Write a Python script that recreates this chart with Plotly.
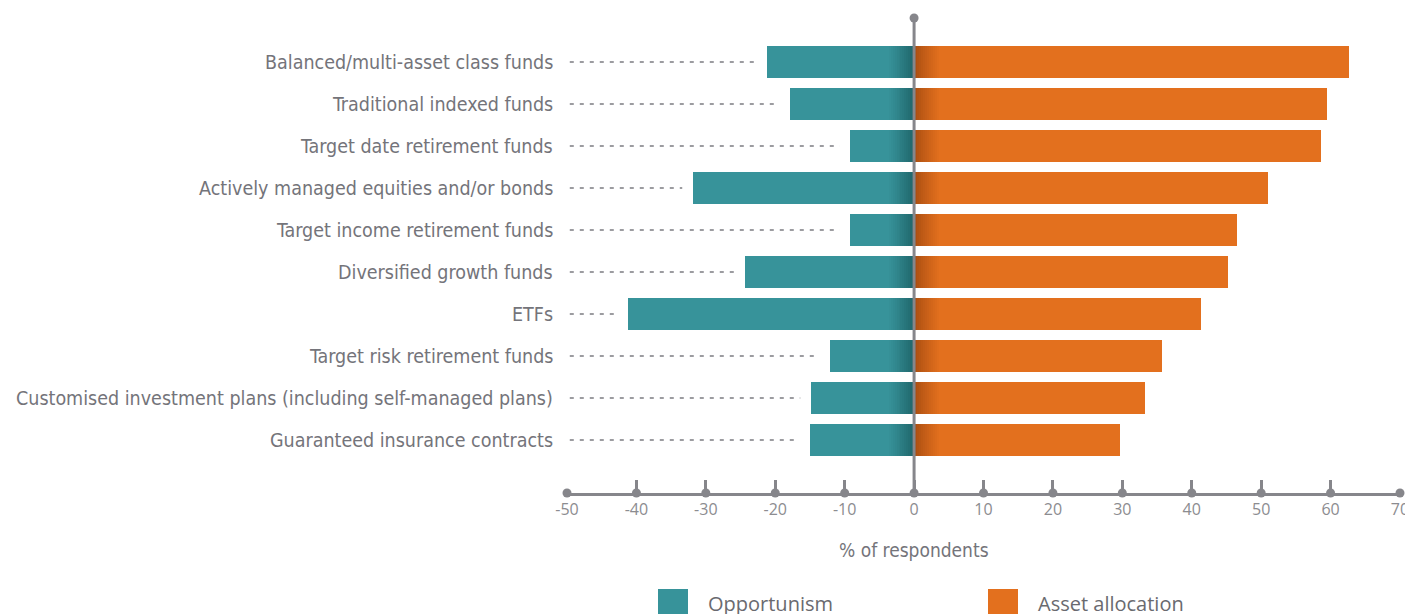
import plotly.graph_objects as go

categories = [
    "Balanced/multi-asset class funds",
    "Traditional indexed funds",
    "Target date retirement funds",
    "Actively managed equities and/or bonds",
    "Target income retirement funds",
    "Diversified growth funds",
    "ETFs",
    "Target risk retirement funds",
    "Customised investment plans (including self-managed plans)",
    "Guaranteed insurance contracts",
]
opportunism = [-21.2, -17.9, -9.2, -31.9, -9.2, -24.4, -41.2, -12.1, -14.9, -15.0]
asset_allocation = [62.7, 59.5, 58.6, 51.0, 46.5, 45.2, 41.4, 35.7, 33.3, 29.7]
tick_vals = [-50, -40, -30, -20, -10, 0, 10, 20, 30, 40, 50, 60, 70]
tick_text = ["-50", "-40", "-30", "-20", "-10", "0", "10", "20", "30", "40", "50", "60", "70"]

TEAL = "#37939A"
TEAL_DARK = "#1F6469"
ORANGE = "#E3701E"
ORANGE_DARK = "#A44A10"
GREY = "#86868B"
TEXT = "#74747A"
COND = "DejaVu Sans Condensed, sans-serif"

OFF = 8  # page body margin
W, H = 1413 - OFF, 614 - OFF
L = 567 - OFF
T = 18 - OFF
PLOT_BOTTOM = 493 - OFF
PLOT_RIGHT = 1400 - OFF
R = W - PLOT_RIGHT
B = H - PLOT_BOTTOM
PW, PH = W - L - R, H - T - B

def px(xp):
    return (xp - OFF - L) / PW

def py(yp):
    return (PLOT_BOTTOM - (yp - OFF)) / PH

ys = list(range(len(categories)))
BW = 0.76

def mix(c1, c2, t):
    a = [int(c1[i:i + 2], 16) for i in (1, 3, 5)]
    b = [int(c2[i:i + 2], 16) for i in (1, 3, 5)]
    return "#%02x%02x%02x" % tuple(round(a[k] + (b[k] - a[k]) * t) for k in range(3))

fig = go.Figure()

fig.add_trace(go.Bar(y=ys, x=opportunism, orientation="h", width=BW,
                     marker=dict(color=TEAL, line=dict(width=0)),
                     name="Opportunism", hoverinfo="skip"))
fig.add_trace(go.Bar(y=ys, x=asset_allocation, orientation="h", width=BW,
                     marker=dict(color=ORANGE, line=dict(width=0)),
                     name="Asset allocation", hoverinfo="skip"))

# gradient shading next to the zero line
NSEG, SEG = 14, 0.28
for j in range(NSEG):
    t = (j / (NSEG - 1)) ** 0.8
    fig.add_trace(go.Bar(y=ys, x=[SEG] * len(ys), base=[-(j + 1) * SEG] * len(ys),
                         orientation="h", width=BW,
                         marker=dict(color=mix(TEAL_DARK, TEAL, t), line=dict(width=0)),
                         showlegend=False, hoverinfo="skip"))
    fig.add_trace(go.Bar(y=ys, x=[SEG] * len(ys), base=[j * SEG] * len(ys),
                         orientation="h", width=BW,
                         marker=dict(color=mix(ORANGE_DARK, ORANGE, t), line=dict(width=0)),
                         showlegend=False, hoverinfo="skip"))

# dotted leader lines
for i, v in enumerate(opportunism):
    fig.add_trace(go.Scatter(x=[-49.6, v - 1.5], y=[i, i], mode="lines",
                             line=dict(color="#9C9CA0", width=2, dash="4px,6px"),
                             showlegend=False, hoverinfo="skip", cliponaxis=False))

# axis dots
fig.add_trace(go.Scatter(x=tick_vals, y=[len(categories) - 1 + 1.26] * len(tick_vals),
                         mode="markers", marker=dict(color=GREY, size=9),
                         showlegend=False, hoverinfo="skip", cliponaxis=False))
# zero line top dot
fig.add_trace(go.Scatter(x=[0], y=[-1.05], mode="markers",
                         marker=dict(color=GREY, size=9),
                         showlegend=False, hoverinfo="skip", cliponaxis=False))

fig.update_layout(
    width=W, height=H,
    margin=dict(l=L, r=R, t=T, b=B, autoexpand=False),
    paper_bgcolor="white", plot_bgcolor="white",
    barmode="overlay", bargap=0,
    showlegend=False,
    xaxis=dict(range=[-50, 70], tickvals=tick_vals, ticktext=tick_text,
               showgrid=False, zeroline=False, automargin=False,
               showline=True, linecolor=GREY, linewidth=3,
               ticks="inside", ticklen=13, tickwidth=3, tickcolor=GREY,
               tickfont=dict(family="Open Sans, sans-serif", size=16, color="#8C8C90"),
               fixedrange=True),
    yaxis=dict(range=[len(categories) - 1 + 1.26, -1.05], showticklabels=False,
               showgrid=False, zeroline=False, showline=False, automargin=False,
               fixedrange=True),
)

fig.add_shape(type="line", xref="x", yref="paper", x0=0, x1=0, y0=0, y1=1,
              line=dict(color=GREY, width=3), layer="above")

for i, c in enumerate(categories):
    fig.add_annotation(x=0, xref="paper", y=i, yref="y", text=c, showarrow=False,
                       xanchor="right", yanchor="middle", xshift=-12,
                       font=dict(family=COND, size=19.5, color=TEXT))

fig.add_annotation(x=0, xref="x", y=py(550), yref="paper", text="% of respondents",
                   showarrow=False, xanchor="center", yanchor="middle",
                   font=dict(family=COND, size=19, color=TEXT))

# legend
for x0, color, label in [(658, TEAL, "Opportunism"), (988, ORANGE, "Asset allocation")]:
    fig.add_shape(type="rect", xref="paper", yref="paper",
                  x0=px(x0), x1=px(x0 + 30), y0=py(620), y1=py(589),
                  fillcolor=color, line=dict(width=0))
    fig.add_annotation(x=px(x0 + 48), xref="paper", y=py(603), yref="paper", text=label,
                       showarrow=False, xanchor="left", yanchor="middle",
                       font=dict(family="Open Sans, sans-serif", size=20, color="#6A6A6F"))

fig.write_html("out.html")
